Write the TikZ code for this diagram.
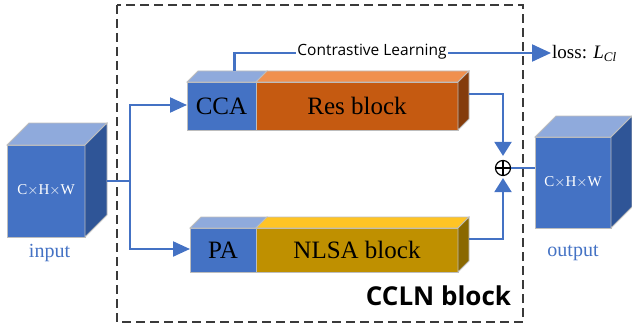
\documentclass[tikz,border=0pt]{standalone}
\usepackage{fontspec}
\setmainfont{Liberation Serif}
\newfontfamily\labelsans{Open Sans}
\usetikzlibrary{arrows.meta}

\definecolor{cubefront}{HTML}{4472C4}
\definecolor{cubetop}{HTML}{8FAADC}
\definecolor{cubeside}{HTML}{2F5597}
\definecolor{resfront}{HTML}{C55A11}
\definecolor{restop}{HTML}{F0904E}
\definecolor{resside}{HTML}{843C0C}
\definecolor{nlfront}{HTML}{BF9000}
\definecolor{nltop}{HTML}{FFC425}
\definecolor{nlside}{HTML}{8A6800}
\definecolor{edgegray}{HTML}{BDBDBD}
\definecolor{flowblue}{HTML}{4472C4}
\definecolor{frameGray}{HTML}{3A3A3A}

% top and side faces of a prism whose front face is node #1, depth #2
\newcommand\facetop[3]{\filldraw[fill=#3,draw=edgegray,line width=0.8pt]
  (#1.north west) -- (#1.north east) -- ([shift={(#2,-#2)}]#1.north east)
  -- ([shift={(#2,-#2)}]#1.north west) -- cycle;}
\newcommand\faceside[3]{\filldraw[fill=#3,draw=edgegray,line width=0.8pt]
  (#1.north east) -- ([shift={(#2,-#2)}]#1.north east)
  -- ([shift={(#2,-#2)}]#1.south east) -- (#1.south east) -- cycle;}

\begin{document}
\begin{tikzpicture}[x=1pt,y=-1pt,
  face/.style={draw=edgegray,line width=0.8pt,inner sep=0pt,outer sep=0pt},
  blocktext/.style={font=\fontsize{25}{27}\selectfont},
  dimtext/.style={text=white,font=\fontsize{15}{17}\selectfont},
  iolabel/.style={text=flowblue,font=\fontsize{20}{22}\selectfont,anchor=base},
  flow/.style={draw=flowblue,line width=2.2pt},
  bigtip/.style={-{Triangle[length=17pt,width=15pt]}},
  sumtip/.style={-{Triangle[length=14pt,width=17pt]}}]
\useasboundingbox (0,0) rectangle (632,329);

% CCLN frame
\draw[frameGray,line width=1.3pt,dash pattern=on 9pt off 5pt] (117,5) rectangle (523,322);
\node[anchor=base,font=\labelsans\bfseries\fontsize{26}{29}\selectfont] (title) at (438.5,305) {CCLN block};

% input tensor
\node[face,fill=cubefront,minimum width=78pt,minimum height=92pt] (input) at (46,191) {};
\facetop{input}{22}{cubetop}
\faceside{input}{22}{cubeside}
\node[dimtext] (indim) at (46,190) {C$\times$H$\times$W};
\node[iolabel] (inlbl) at (49.5,257) {input};

% output tensor
\node[face,fill=cubefront,minimum width=76pt,minimum height=91pt] (output) at (573,182.5) {};
\facetop{output}{21}{cubetop}
\faceside{output}{21}{cubeside}
\node[dimtext] (outdim) at (573,182) {C$\times$H$\times$W};
\node[iolabel] (outlbl) at (573,256) {output};

% upper branch: CCA + Res block
\node[face,fill=cubefront,minimum width=69pt,minimum height=48pt,blocktext] (cca) at (221.5,106) {CCA};
\node[face,fill=resfront,minimum width=202pt,minimum height=48pt,blocktext] (res) at (357,106) {Res block};
\facetop{cca}{11}{cubetop}
\facetop{res}{11}{restop}
\faceside{res}{11}{resside}

% lower branch: PA + NLSA block
\node[face,fill=cubefront,minimum width=66pt,minimum height=44pt,blocktext] (pa) at (223,250) {PA};
\node[face,fill=nlfront,minimum width=202pt,minimum height=44pt,blocktext] (nlsa) at (357,250) {NLSA block};
\facetop{pa}{11}{cubetop}
\facetop{nlsa}{11}{nltop}
\faceside{nlsa}{11}{nlside}

% fusion
\node[circle,draw=black,line width=1.2pt,minimum size=15pt,inner sep=0pt] (plus) at (503,168) {};
\draw[line width=1.2pt] (plus.north) -- (plus.south) (plus.west) -- (plus.east);

% loss output
\node[anchor=west,inner sep=1pt,font=\fontsize{19}{21}\selectfont] (loss) at (551,53)
  {loss: \textit{L}\raisebox{-0.35ex}{\fontsize{13}{14}\selectfont\textit{Cl}}};

% connectors
\coordinate (inout) at ([shift={(22,-10)}]input.east);
\coordinate (split) at (130,181);
\draw[flow] (inout) -- (split);
\draw[flow,bigtip] (split) |- ([yshift=1]cca.west);
\draw[flow,bigtip] (split) |- ([yshift=1]pa.west);

\coordinate (ccaup) at ([shift={(13,-11)}]cca.north);
\draw[flow,-{Triangle[length=19pt,width=17pt]}] (ccaup) |- (loss.west);
\node[fill=white,inner sep=1.5pt,font=\labelsans\fontsize{15.5}{17}\selectfont] (cl) at (372,52) {Contrastive Learning};

\coordinate (resout) at ([shift={(11,-12)}]res.east);
\coordinate (nlout) at ([shift={(11,-11)}]nlsa.east);
\draw[flow,sumtip,shorten >=4pt] (resout) -| (plus.north);
\draw[flow,sumtip,shorten >=2pt] (nlout) -| (plus.south);
\draw[flow] (plus.east) -- (plus.east -| output.west);
\end{tikzpicture}
\end{document}
